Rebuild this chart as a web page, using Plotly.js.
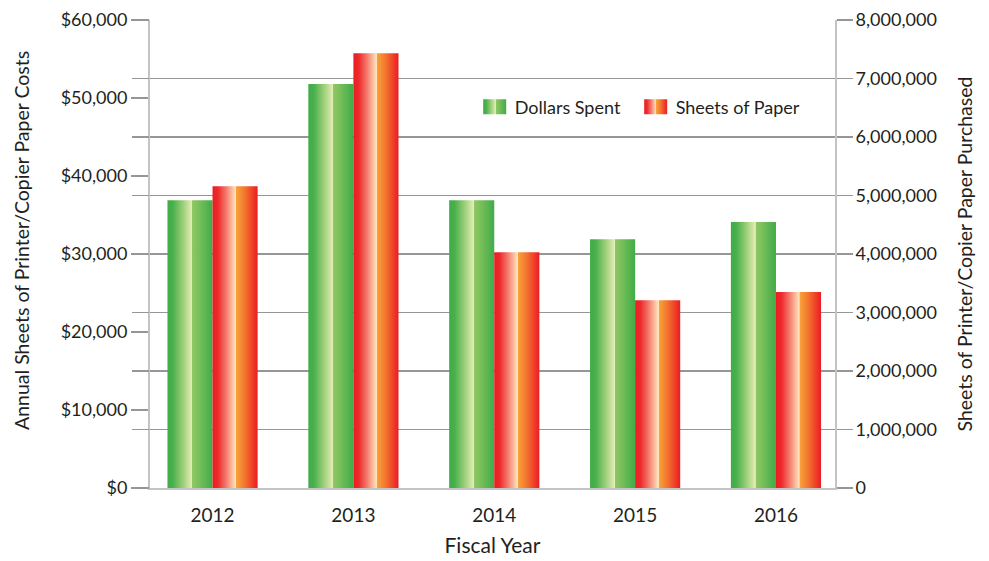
<!DOCTYPE html>
<html>
<head>
<meta charset="utf-8">
<script src="https://cdn.plot.ly/plotly-3.0.1.min.js"></script>
<style>
html,body{margin:0;padding:0;background:#fff;}
#chart{width:989px;height:561px;}
</style>
</head>
<body>
<div id="chart"></div>
<script>
const years = ['2012', '2013', '2014', '2015', '2016'];
const dollarsSpent = [36900, 51800, 36900, 31900, 34100];
const sheetsOfPaper = [5160000, 7430000, 4030000, 3210000, 3350000];
const dollarTicks = [0, 10000, 20000, 30000, 40000, 50000, 60000];
const dollarTickText = ['$0', '$10,000', '$20,000', '$30,000', '$40,000', '$50,000', '$60,000'];
const sheetTicks = [0, 1000000, 2000000, 3000000, 4000000, 5000000, 6000000, 7000000, 8000000];
const sheetTickText = ['0', '1,000,000', '2,000,000', '3,000,000', '4,000,000', '5,000,000', '6,000,000', '7,000,000', '8,000,000'];
const leftTitle = 'Annual Sheets of Printer/Copier Paper Costs';

const FONT = 'Lato, "Open Sans", sans-serif';
const TXT = '#231f20';
const GRID = '#969696';
const LINE = '#c4c4c4';

const traces = [
  {
    type: 'bar', name: 'Dollars Spent', x: years, y: dollarsSpent,
    yaxis: 'y', width: 0.32, offset: -0.32,
    marker: {color: '#5cb852', line: {width: 0}},
    hoverinfo: 'none'
  },
  {
    type: 'bar', name: 'Sheets of Paper', x: years, y: sheetsOfPaper,
    yaxis: 'y2', width: 0.32, offset: 0,
    marker: {color: '#ee3b2e', line: {width: 0}},
    hoverinfo: 'none'
  }
];

const layout = {
  width: 989, height: 561,
  margin: {l: 150, r: 154, t: 20, b: 73},
  paper_bgcolor: '#fff', plot_bgcolor: '#fff',
  font: {family: FONT, color: TXT, size: 18},
  showlegend: true,
  legend: {
    orientation: 'h', x: 0.474, y: 0.814, xanchor: 'left', yanchor: 'middle',
    font: {family: FONT, size: 18, color: TXT}, bgcolor: 'rgba(0,0,0,0)',
    traceorder: 'normal', entrywidth: 116
  },
  annotations: [{
    text: leftTitle, xref: 'paper', yref: 'paper', x: -0.1869, y: 0.53,
    xanchor: 'center', yanchor: 'middle', textangle: -90, showarrow: false,
    font: {size: 19.5, family: FONT, color: TXT}
  }],
  xaxis: {
    type: 'category', range: [-0.444, 4.419],
    showgrid: false, zeroline: false,
    showline: true, linecolor: LINE, linewidth: 2,
    ticks: '', ticklabelstandoff: 9, tickfont: {size: 19, family: FONT, color: TXT},
    title: {text: 'Fiscal Year', font: {size: 21, family: FONT, color: TXT}, standoff: 14},
    fixedrange: true
  },
  yaxis: {
    range: [0, 60000], tickvals: dollarTicks, ticktext: dollarTickText,
    showgrid: false, zeroline: false,
    showline: true, linecolor: LINE, linewidth: 2,
    ticks: 'outside', ticklen: 17, tickcolor: GRID, tickwidth: 1.5,
    tickfont: {size: 18, family: FONT, color: TXT},
    fixedrange: true
  },
  yaxis2: {
    range: [0, 8000000], tickvals: sheetTicks, ticktext: sheetTickText,
    overlaying: 'y', side: 'right', anchor: 'x',
    showgrid: true, gridcolor: GRID, gridwidth: 1.5, zeroline: false,
    showline: true, linecolor: LINE, linewidth: 2,
    ticks: 'outside', ticklen: 16, tickcolor: GRID, tickwidth: 1.5,
    ticklabelstandoff: -1,
    tickfont: {size: 18, family: FONT, color: TXT},
    title: {text: 'Sheets of Printer/Copier Paper Purchased', font: {size: 19.5, family: FONT, color: TXT}, standoff: 22},
    fixedrange: true
  },
  yaxis3: {
    range: [0, 8000000], tickvals: sheetTicks,
    overlaying: 'y', side: 'left', anchor: 'x',
    showgrid: false, zeroline: false, showline: false,
    ticks: 'outside', ticklen: 17, tickcolor: GRID, tickwidth: 1.5,
    showticklabels: false, fixedrange: true
  }
};

// invisible helper trace so that the left-hand extension ticks of yaxis3 are drawn
traces.push({type: 'scatter', x: [years[0]], y: [0], yaxis: 'y3', mode: 'none', showlegend: false, hoverinfo: 'none'});

Plotly.newPlot('chart', traces, layout, {displayModeBar: false, staticPlot: true}).then(function (gd) {
  const svgNS = 'http://www.w3.org/2000/svg';
  const svg = gd.querySelector('svg.main-svg');
  let defs = svg.querySelector('defs');
  if (!defs) { defs = document.createElementNS(svgNS, 'defs'); svg.insertBefore(defs, svg.firstChild); }
  function grad(id, stops) {
    const g = document.createElementNS(svgNS, 'linearGradient');
    g.setAttribute('id', id);
    g.setAttribute('x1', '0'); g.setAttribute('y1', '0');
    g.setAttribute('x2', '1'); g.setAttribute('y2', '0');
    stops.forEach(function (s) {
      const st = document.createElementNS(svgNS, 'stop');
      st.setAttribute('offset', s[0]);
      st.setAttribute('stop-color', s[1]);
      g.appendChild(st);
    });
    defs.appendChild(g);
  }
  grad('gradGreen', [
    [0, '#3fac48'], [0.12, '#48b04c'], [0.3, '#8cc86f'], [0.5, '#d4e6a6'], [0.545, '#e4eeba'],
    [0.55, '#8fc866'], [0.7, '#78bf5a'], [1, '#3fac48']
  ]);
  grad('gradRed', [
    [0, '#ec1c24'], [0.12, '#ed2a2b'], [0.3, '#f47a6c'], [0.48, '#fdd3b0'], [0.52, '#fee8bd'],
    [0.525, '#f8a33c'], [0.7, '#f3792f'], [1, '#ec1c24']
  ]);
  const barTraces = gd.querySelectorAll('.barlayer .trace');
  const ids = ['gradGreen', 'gradRed'];
  barTraces.forEach(function (t, i) {
    t.querySelectorAll('path').forEach(function (p) { p.style.fill = 'url(#' + ids[i] + ')'; p.style.stroke = 'none'; });
  });
  const legendPts = gd.querySelectorAll('.legend .traces');
  legendPts.forEach(function (t, i) {
    t.querySelectorAll('.legendpoints path').forEach(function (p) {
      p.setAttribute('d', 'M-11.5,-7.5H11.5V7.5H-11.5Z');
      p.style.fill = 'url(#' + ids[i] + ')'; p.style.stroke = 'none';
    });
  });
  gd.querySelectorAll('.legend [clip-path]').forEach(function (el) { el.removeAttribute('clip-path'); });
});
</script>
</body>
</html>
